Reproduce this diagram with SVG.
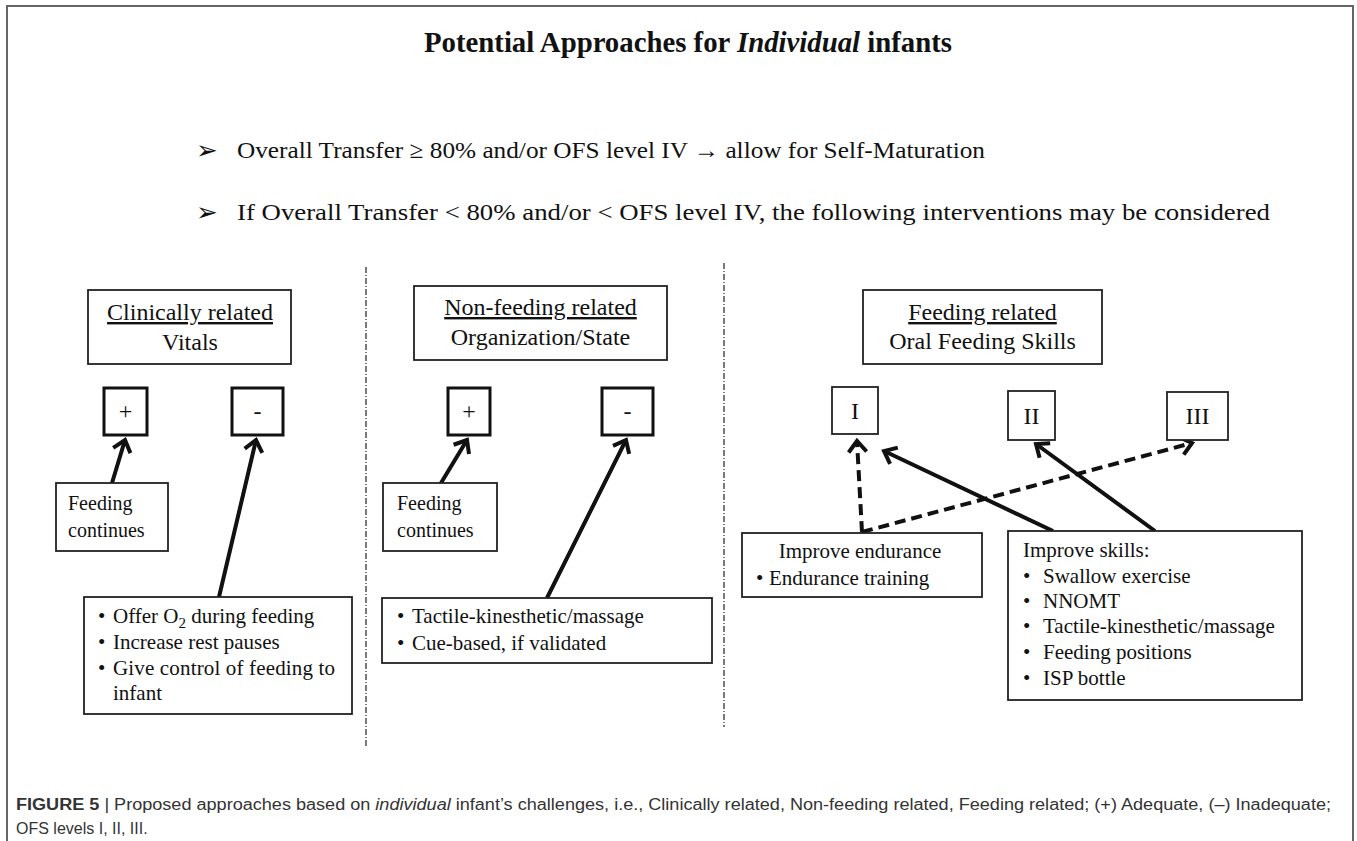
<svg xmlns="http://www.w3.org/2000/svg" width="1357" height="841" viewBox="0 0 1357 841">
<style>
.t{font-family:"Liberation Serif","Times New Roman",serif;fill:#111}
.h{font-size:24px;text-anchor:middle}
.b{font-size:21px}
.fc{font-size:20px}
.box{fill:#fff;stroke:#222;stroke-width:1.8}
.sq{fill:#fff;stroke:#111;stroke-width:3}
.sqt{fill:#fff;stroke:#222;stroke-width:1.8}
.sep{stroke:#333;stroke-width:1.3;stroke-dasharray:6 2 1 2;fill:none}
.ar{stroke:#111;stroke-width:4;fill:none}
.dash{stroke-dasharray:11 6}
.cap{font-family:"Liberation Sans",Arial,sans-serif;font-size:16px;fill:#333}
.bul{font-family:"DejaVu Sans",sans-serif;font-size:26px;fill:#111}
</style>
<defs>
<marker id="ah" markerUnits="userSpaceOnUse" markerWidth="24" markerHeight="24" refX="12" refY="12" orient="auto" overflow="visible">
<path d="M1,3 L12,12 L1,21" fill="none" stroke="#111" stroke-width="4" stroke-dasharray="none"/>
</marker>
</defs>
<rect width="1357" height="841" fill="#fff"/>
<rect x="7" y="6" width="1346" height="900" fill="none" stroke="#666" stroke-width="2"/>

<g id="title">
<text class="t" x="424" y="52" font-size="29" font-weight="bold" textLength="528" lengthAdjust="spacingAndGlyphs">Potential Approaches for <tspan font-style="italic">Individual</tspan> infants</text>
</g>
<g id="bullets">
<text class="bul" x="196" y="159">➢</text>
<text class="t" x="237" y="158" font-size="24" textLength="748" lengthAdjust="spacingAndGlyphs">Overall Transfer ≥ 80% and/or OFS level IV <tspan font-weight="bold">→</tspan> allow for Self-Maturation</text>
<text class="bul" x="196" y="221">➢</text>
<text class="t" x="237" y="220" font-size="24" textLength="1033" lengthAdjust="spacingAndGlyphs">If Overall Transfer &lt; 80% and/or &lt; OFS level IV, the following interventions may be considered</text>
</g>

<g id="separators">
<line class="sep" x1="366" y1="267" x2="366" y2="748"/>
<line class="sep" x1="724" y1="263" x2="724" y2="727"/>
</g>

<g id="connectors">
<line class="ar" x1="112" y1="483" x2="125" y2="440" marker-end="url(#ah)"/>
<line class="ar" x1="219" y1="597" x2="256" y2="440" marker-end="url(#ah)"/>
<line class="ar" x1="441" y1="483" x2="467" y2="440" marker-end="url(#ah)"/>
<line class="ar" x1="547" y1="598" x2="626" y2="440" marker-end="url(#ah)"/>
<line class="ar dash" x1="862" y1="532" x2="857" y2="441" marker-end="url(#ah)"/>
<line class="ar dash" x1="862" y1="532" x2="1192" y2="443" marker-end="url(#ah)"/>
<line class="ar" x1="1053" y1="531" x2="884" y2="451" marker-end="url(#ah)"/>
<line class="ar" x1="1155" y1="531" x2="1036" y2="444" marker-end="url(#ah)"/>
</g>

<g id="clinically">
<rect class="box" x="88" y="290" width="203" height="74"/>
<text class="t h" x="190" y="320" text-decoration="underline">Clinically  related</text>
<text class="t h" x="190" y="350">Vitals</text>
</g>
<g id="clin-plus">
<rect class="sq" x="104" y="388" width="43" height="47"/>
<text class="t h" x="125.5" y="419">+</text>
</g>
<g id="clin-minus">
<rect class="sq" x="232" y="388" width="51" height="47"/>
<text class="t h" x="257.5" y="419">-</text>
</g>
<g id="clin-cont">
<rect class="box" x="56" y="483" width="112" height="68"/>
<text class="t fc" x="68" y="510">Feeding</text>
<text class="t fc" x="68" y="537">continues</text>
</g>
<g id="clin-list">
<rect class="box" x="84" y="597" width="268" height="117"/>
<text class="t b" x="98" y="623">•</text>
<text class="t b" x="113" y="623">Offer O<tspan font-size="15" dy="5">2</tspan><tspan dy="-5"> during  feeding</tspan></text>
<text class="t b" x="98" y="649">•</text>
<text class="t b" x="113" y="649">Increase rest pauses</text>
<text class="t b" x="98" y="675">•</text>
<text class="t b" x="113" y="675" textLength="222">Give control of feeding to</text>
<text class="t b" x="113" y="700">infant</text>
</g>

<g id="nonfeeding">
<rect class="box" x="414" y="286" width="253" height="74"/>
<text class="t h" x="540.5" y="315" text-decoration="underline">Non-feeding related</text>
<text class="t h" x="540.5" y="345">Organization/State</text>
</g>
<g id="nf-plus">
<rect class="sq" x="448" y="388" width="42" height="47"/>
<text class="t h" x="469" y="419">+</text>
</g>
<g id="nf-minus">
<rect class="sq" x="602" y="388" width="51" height="47"/>
<text class="t h" x="627.5" y="419">-</text>
</g>
<g id="nf-cont">
<rect class="box" x="383" y="483" width="114" height="68"/>
<text class="t fc" x="397" y="510">Feeding</text>
<text class="t fc" x="397" y="537">continues</text>
</g>
<g id="nf-list">
<rect class="box" x="382" y="598" width="330" height="65"/>
<text class="t b" x="397" y="623">•</text>
<text class="t b" x="412" y="623">Tactile-kinesthetic/massage</text>
<text class="t b" x="397" y="650">•</text>
<text class="t b" x="412" y="650">Cue-based, if validated</text>
</g>

<g id="feeding">
<rect class="box" x="863" y="290" width="239" height="74"/>
<text class="t h" x="982.5" y="320" text-decoration="underline">Feeding related</text>
<text class="t h" x="982.5" y="349">Oral Feeding Skills</text>
</g>
<g id="lvl-1">
<rect class="sqt" x="832" y="387" width="46" height="47"/>
<text class="t h" x="855" y="419">I</text>
</g>
<g id="lvl-2">
<rect class="sqt" x="1008" y="391" width="47" height="49"/>
<text class="t h" x="1031.5" y="424">II</text>
</g>
<g id="lvl-3">
<rect class="sqt" x="1167" y="392" width="61" height="48"/>
<text class="t h" x="1197.5" y="424">III</text>
</g>
<g id="endurance">
<rect class="box" x="742" y="533" width="240" height="64"/>
<text class="t b" x="860" y="558" text-anchor="middle">Improve  endurance</text>
<text class="t b" x="756" y="585">•</text>
<text class="t b" x="769" y="585">Endurance  training</text>
</g>
<g id="skills">
<rect class="box" x="1008" y="531" width="294" height="169"/>
<text class="t b" x="1023" y="557">Improve  skills:</text>
<text class="t b" x="1023" y="583">•</text>
<text class="t b" x="1043" y="583">Swallow  exercise</text>
<text class="t b" x="1023" y="608">•</text>
<text class="t b" x="1043" y="608">NNOMT</text>
<text class="t b" x="1023" y="633">•</text>
<text class="t b" x="1043" y="633">Tactile-kinesthetic/massage</text>
<text class="t b" x="1023" y="659">•</text>
<text class="t b" x="1043" y="659">Feeding  positions</text>
<text class="t b" x="1023" y="685">•</text>
<text class="t b" x="1043" y="685">ISP bottle</text>
</g>

<g id="caption">
<text class="cap" x="16" y="810" textLength="1315" lengthAdjust="spacingAndGlyphs"><tspan font-weight="bold">FIGURE 5</tspan> | Proposed approaches based on <tspan font-style="italic">individual</tspan> infant’s challenges, i.e., Clinically related, Non-feeding related, Feeding related; (+) Adequate, (–) Inadequate;</text>
<text class="cap" x="16" y="834">OFS levels I, II, III.</text>
</g>
</svg>
